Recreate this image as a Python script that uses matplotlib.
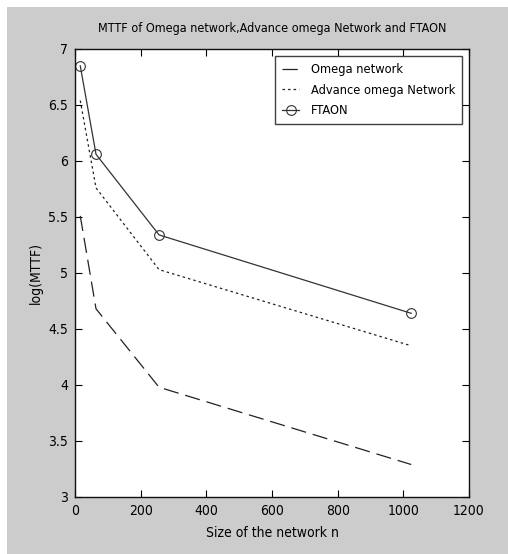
import matplotlib
matplotlib.use("Agg")
import matplotlib.pyplot as plt
from matplotlib.patches import Rectangle

# data
sizes = [16, 64, 256, 1024]
omega = [5.51, 4.68, 3.98, 3.29]
advance_omega = [6.54, 5.76, 5.03, 4.35]
ftaon = [6.85, 6.06, 5.34, 4.64]

x_ticks = [0, 200, 400, 600, 800, 1000, 1200]
y_ticks = [3, 3.5, 4, 4.5, 5, 5.5, 6, 6.5, 7]

plt.rcParams['font.family'] = ['DejaVu Sans']
plt.rcParams['font.stretch'] = 'condensed'
plt.rcParams['lines.scale_dashes'] = False

W, H = 508, 554
fig = plt.figure(figsize=(W / 100, H / 100), dpi=100)
fig.patch.set_facecolor('white')
# gray MATLAB-style figure background with small white margin top/left
fig.patches.append(Rectangle((7 / W, 0), 1 - 7 / W, 1 - 7 / H, transform=fig.transFigure,
                             facecolor='#cccccc', edgecolor='none', zorder=-10))

ax = fig.add_axes([75 / W, (H - 497) / H, 394 / W, 448 / H])
ax.set_facecolor('white')

lw = 0.9
ax.plot(sizes, omega, color='#222222', lw=lw, dashes=(11, 5), label='Omega network')
ax.plot(sizes, advance_omega, color='#222222', lw=lw, dashes=(1.8, 2.2), label='Advance omega Network')
ax.plot(sizes, ftaon, color='#333333', lw=lw, marker='o', markersize=7, markerfacecolor='none',
        markeredgewidth=0.8, label='FTAON')

ax.set_xlim(0, 1200)
ax.set_ylim(3, 7)
ax.set_xticks(x_ticks)
ax.set_yticks(y_ticks)
ax.set_xticklabels([str(v) for v in x_ticks])
ax.set_yticklabels(['3', '3.5', '4', '4.5', '5', '5.5', '6', '6.5', '7'])
ax.tick_params(direction='in', length=5, width=0.8, top=True, right=True, labelsize=10, pad=5)
for s in ax.spines.values():
    s.set_linewidth(1.0)
    s.set_color('#111111')

ax.set_title('MTTF of Omega network,Advance omega Network and FTAON', fontsize=9, pad=12)
ax.set_xlabel('Size of the network n', fontsize=10, labelpad=6)
ax.set_ylabel('log(MTTF)', fontsize=10, labelpad=4)

leg = ax.legend(loc='upper right', bbox_to_anchor=(462 / W, (H - 56) / H), bbox_transform=fig.transFigure,
                fontsize=9.2, frameon=True, fancybox=False, borderpad=0.55, labelspacing=0.6,
                handlelength=1.3, handletextpad=0.9, borderaxespad=0)
leg.get_frame().set_edgecolor('#111111')
leg.get_frame().set_linewidth(1.0)

fig.savefig('out.png', dpi=100, facecolor=fig.get_facecolor())
